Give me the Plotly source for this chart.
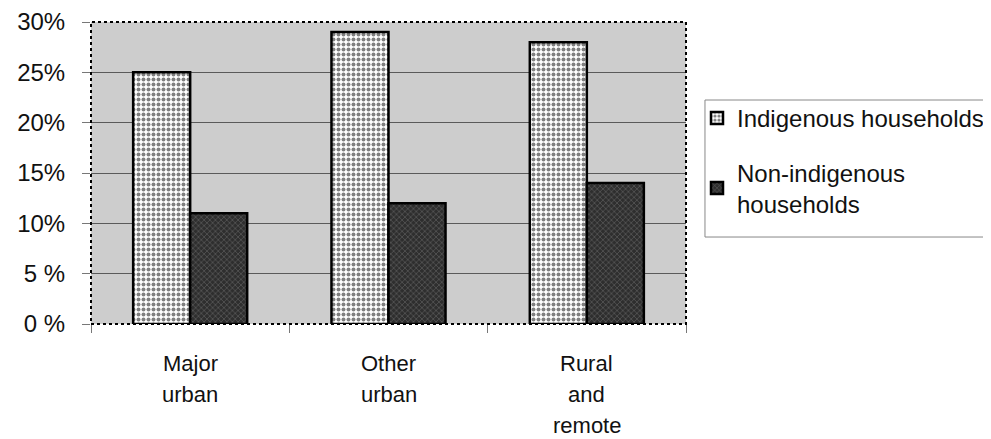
import plotly.graph_objects as go

categories = ["Major urban", "Other urban", "Rural and remote"]
category_lines = [["Major", "urban"], ["Other", "urban"], ["Rural", "and", "remote"]]
indigenous = [25, 29, 28]
non_indigenous = [11, 12, 14]
series_names = ["Indigenous households", "Non-indigenous<br>households"]
y_tick_vals = [0, 5, 10, 15, 20, 25, 30]
y_tick_text = ["0 %", "5 %", "10%", "15%", "20%", "25%", "30%"]

FONT = "Liberation Sans, Arial, sans-serif"

fig = go.Figure()
fig.add_trace(go.Bar(
    x=categories, y=indigenous, name=series_names[0], legendgroup="a",
    marker=dict(color="white",
                line=dict(color="black", width=2.5),
                pattern=dict(shape=".", bgcolor="white", fgcolor="black",
                             size=5, solidity=0.5)),
))
fig.add_trace(go.Bar(
    x=categories, y=non_indigenous, name=series_names[1], legendgroup="b",
    marker=dict(color="#333333",
                line=dict(color="black", width=2.5),
                pattern=dict(shape="x", bgcolor="#2e2e2e", fgcolor="#8f8f8f",
                             size=4, solidity=0.3)),
))

annotations = []
for cat, lines in zip(categories, category_lines):
    for i, line in enumerate(lines):
        annotations.append(dict(
            x=cat, xref="x", y=0, yref="paper", yanchor="middle",
            yshift=-39 - 31 * i, text=line, showarrow=False,
            font=dict(family=FONT, size=22, color="#111"),
        ))

fig.update_layout(
    width=983, height=431,
    margin=dict(l=83, r=305, t=14, b=115, autoexpand=False),
    paper_bgcolor="white",
    plot_bgcolor="#cdcdcd",
    barmode="group",
    bargap=0.425,
    bargroupgap=0,
    font=dict(family=FONT, size=24, color="#111"),
    showlegend=True,
    legend=dict(
        x=1.0185, y=0.755, xanchor="left", yanchor="top",
        bgcolor="rgba(0,0,0,0)", borderwidth=0,
        font=dict(family=FONT, size=24, color="#111"),
        tracegroupgap=20, itemwidth=30,
    ),
    xaxis=dict(
        type="category", tickson="boundaries", ticks="outside", ticklen=8,
        tickcolor="#777", showticklabels=False, showgrid=False,
        zeroline=False, showline=False,
    ),
    yaxis=dict(
        range=[0, 30], tickvals=y_tick_vals, ticktext=y_tick_text,
        ticks="outside", ticklen=8, tickcolor="#777",
        ticklabelstandoff=12,
        showgrid=True, gridcolor="#5a5a5a", gridwidth=1,
        zeroline=False, showline=False,
        tickfont=dict(family=FONT, size=24, color="#111"),
    ),
    annotations=annotations,
    shapes=[
        dict(type="rect", xref="paper", yref="paper", x0=0, x1=1, y0=0, y1=1,
             line=dict(color="black", width=2, dash="dot"), layer="above"),
        dict(type="rect", xref="paper", yref="paper", x0=1.0319, x1=1.7,
             y0=0.288, y1=0.7417, fillcolor="white",
             line=dict(color="#888888", width=1), layer="below"),
    ],
)

fig.write_html("out.html")
